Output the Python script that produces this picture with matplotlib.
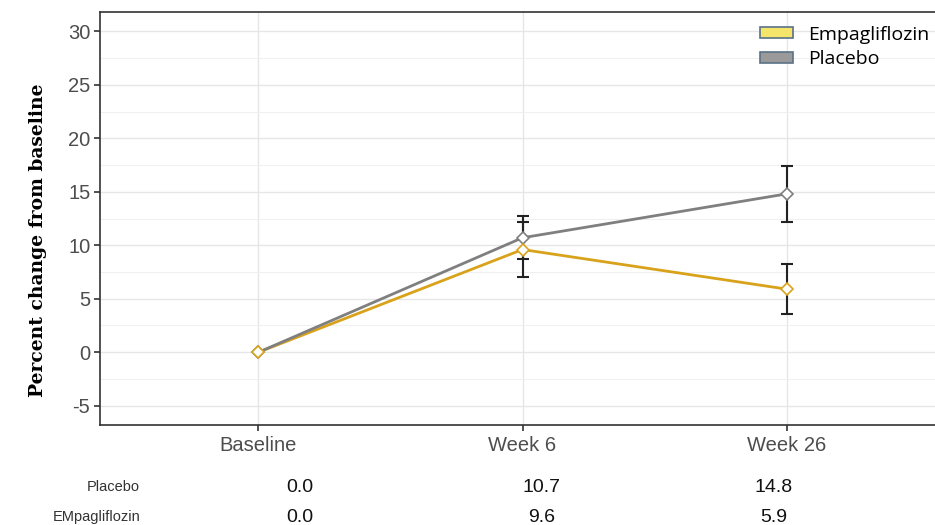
import numpy as np
from matplotlib import pyplot as plt
from matplotlib.patches import Patch
from matplotlib.ticker import MultipleLocator

timepoints = ['Baseline', 'Week 6', 'Week 26']
placebo = [0.0, 10.7, 14.8]
placebo_err = [0.0, 2.0, 2.6]
empa = [0.0, 9.6, 5.9]
empa_err = [0.0, 2.6, 2.35]
table_rows = ['Placebo', 'EMpagliflozin']
table_vals = [['0.0', '10.7', '14.8'], ['0.0', '9.6', '5.9']]

EMPA_C = '#d9a21b'
PLAC_C = '#7f7f7f'


def main():
    plt.rcParams['axes.unicode_minus'] = False
    fig = plt.figure(figsize=(9.35, 5.25), dpi=100)
    W, H = 935, 525
    # axes box in pixels: left 100, right ~945 (cut off), top 12, bottom 425
    ax = fig.add_axes([100 / W, 1 - 425 / H, 845 / W, 413 / H])
    x = np.arange(len(timepoints))

    ax.plot(x, empa, color=EMPA_C, lw=2, zorder=3)
    ax.plot(x, placebo, color=PLAC_C, lw=2, zorder=3)
    for vals, errs in [(placebo, placebo_err), (empa, empa_err)]:
        idx = [i for i, e in enumerate(errs) if e > 0]
        ax.errorbar([x[i] for i in idx], [vals[i] for i in idx], yerr=[errs[i] for i in idx],
                    fmt='none', ecolor='#222222', elinewidth=1.5, capsize=4.5, capthick=1.5, zorder=4)
    ax.plot(x, placebo, ls='none', marker='D', ms=6, mfc='white', mec=PLAC_C, mew=1.2, zorder=5)
    ax.plot(x, empa, ls='none', marker='D', ms=6, mfc='white', mec=EMPA_C, mew=1.2, zorder=5)

    ax.set_xlim(-0.6, 2.6)
    ax.set_ylim(-6.8, 31.8)
    ax.set_xticks(x)
    ax.set_xticklabels(timepoints)
    ax.yaxis.set_major_locator(MultipleLocator(5))
    ax.yaxis.set_minor_locator(MultipleLocator(2.5))
    ax.grid(which='major', color='#e6e6e6', lw=1)
    ax.grid(which='minor', axis='y', color='#f0f0f0', lw=0.8)
    ax.set_axisbelow(True)
    ax.tick_params(axis='both', which='major', labelsize=14.5, labelcolor='#4d4d4d',
                   color='#333333', length=4, width=1.2, pad=3,
                   labelfontfamily='Liberation Sans')
    ax.tick_params(axis='y', which='minor', length=0)
    ax.tick_params(axis='x', pad=4)
    for s in ax.spines.values():
        s.set_color('#333333')
        s.set_linewidth(1.2)

    fig.text(38 / W, 1 - 240 / H, 'Percent change from baseline', rotation=90,
             ha='center', va='center', fontsize=13.5, fontweight='bold',
             family='DejaVu Serif')

    handles = [Patch(facecolor='#f5e56b', edgecolor='#5a7287', lw=1.2),
               Patch(facecolor='#9a9a9a', edgecolor='#5a7287', lw=1.2)]
    fig.legend(handles, ['Empagliflozin', 'Placebo'], loc='upper left',
               bbox_to_anchor=(742 / W, 1 - 8 / H), frameon=False,
               prop={'family': 'Open Sans', 'size': 14}, handlelength=1.7,
               handleheight=0.5, labelspacing=0.35, handletextpad=0.8)

    # table of values below the axis
    row_y = [487, 517]
    col_x = [300, 542, 774]
    for r, (name, vals) in enumerate(zip(table_rows, table_vals)):
        fig.text(140 / W, 1 - row_y[r] / H, name, ha='right', va='center',
                 fontsize=10.5, color='#333333', family='Liberation Sans')
        for c, v in enumerate(vals):
            fig.text(col_x[c] / W, 1 - row_y[r] / H, v, ha='center', va='center',
                     fontsize=14, color='#111111', family='Liberation Sans')

    fig.savefig('out.png', dpi=100)


if __name__ == '__main__':
    main()
